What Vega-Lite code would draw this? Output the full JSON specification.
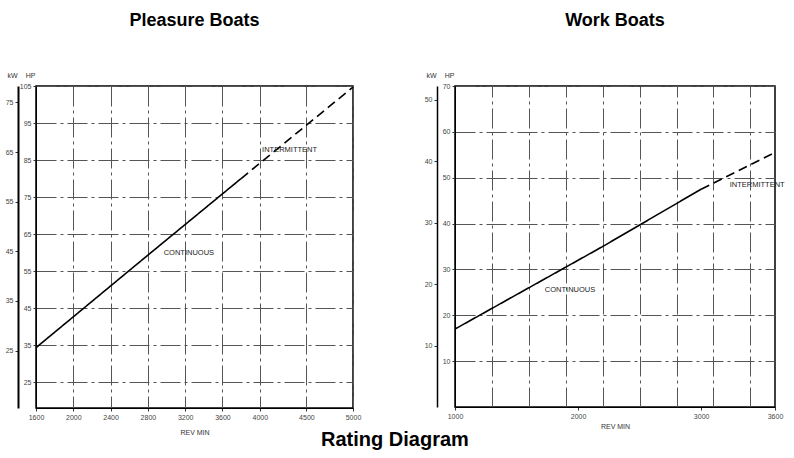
{
  "$schema": "https://vega.github.io/schema/vega-lite/v6.json",
  "background": "white",
  "padding": {"left": 4, "top": 11, "right": 8, "bottom": 4},
  "title": {"text": "Rating Diagram", "orient": "bottom", "anchor": "middle", "fontSize": 20, "font": "Liberation Sans", "fontWeight": "bold", "color": "black", "offset": -6},
  "datasets": {
    "pleasure": [
      {"rpm": 1600, "hp": 34.3, "rating": "CONTINUOUS"},
      {"rpm": 2800, "hp": 59.3, "rating": "CONTINUOUS"},
      {"rpm": 3800, "hp": 80.0, "rating": "CONTINUOUS"},
      {"rpm": 3800, "hp": 80.0, "rating": "INTERMITTENT"},
      {"rpm": 5000, "hp": 104.7, "rating": "INTERMITTENT"}
    ],
    "work": [
      {"rpm": 1000, "hp": 17.0, "rating": "CONTINUOUS"},
      {"rpm": 1600, "hp": 26.0, "rating": "CONTINUOUS"},
      {"rpm": 2200, "hp": 35.0, "rating": "CONTINUOUS"},
      {"rpm": 3000, "hp": 47.5, "rating": "CONTINUOUS"},
      {"rpm": 3000, "hp": 47.5, "rating": "INTERMITTENT"},
      {"rpm": 3600, "hp": 55.5, "rating": "INTERMITTENT"}
    ],
    "pleasureLabels": [
      {"rpm": 3240, "hp": 59.9, "label": "CONTINUOUS"},
      {"rpm": 4320, "hp": 87.7, "label": "INTERMITTENT"}
    ],
    "workLabels": [
      {"rpm": 1935, "hp": 25.5, "label": "CONTINUOUS"},
      {"rpm": 3455, "hp": 48.4, "label": "INTERMITTENT"}
    ],
    "pleasureKw": [{"kw": 13.42}, {"kw": 78.3}],
    "workKw": [{"kw": 0}, {"kw": 52.2}]
  },
  "config": {
    "view": {"stroke": "black", "strokeWidth": 1.5},
    "axis": {
      "labelFont": "Liberation Sans", "labelFontSize": 7, "labelColor": "#444",
      "titleFont": "Liberation Sans", "titleFontSize": 7, "titleFontWeight": "normal", "titleColor": "#333",
      "domainColor": "black", "tickColor": "#333", "tickSize": 3, "labelPadding": 2,
      "labelOverlap": false, "labelFlush": false,
      "gridColor": "#555", "gridDash": [20, 4, 3, 4], "gridWidth": 1
    }
  },
  "spacing": 61,
  "hconcat": [
    {
      "width": 317, "height": 322,
      "title": {"text": "Pleasure Boats", "fontSize": 18, "font": "Liberation Sans", "fontWeight": "bold", "color": "black", "offset": 41},
      "layer": [
        {
          "layer": [
            {
              "data": {"name": "pleasure"},
              "mark": {"type": "line", "color": "black", "strokeWidth": 1.6},
              "encoding": {
                "x": {"field": "rpm", "type": "quantitative", "scale": {"domain": [1600, 5000], "nice": false, "zero": false},
                  "axis": {"values": [1600, 2000, 2400, 2800, 3200, 3600, 4000, 4500, 5000], "labelOverlap": false, "labelFlush": false, "format": "d", "title": "REV   MIN", "titlePadding": 8, "grid": true}},
                "y": {"field": "hp", "type": "quantitative", "scale": {"domain": [18, 105], "nice": false, "zero": false},
                  "axis": {"orient": "left", "values": [25, 35, 45, 55, 65, 75, 85, 95, 105], "labelOverlap": false, "title": "HP", "titleAngle": 0, "titleX": -6, "titleY": -8, "titleAlign": "center", "titleBaseline": "bottom", "grid": true}},
                "strokeDash": {"field": "rating", "type": "nominal", "scale": {"domain": ["CONTINUOUS", "INTERMITTENT"], "range": [[1, 0], [9, 5]]}, "legend": null}
              }
            },
            {
              "data": {"name": "pleasureLabels"},
              "mark": {"type": "text", "font": "Liberation Sans", "fontSize": 7.5, "color": "#222", "align": "center", "baseline": "middle"},
              "encoding": {
                "x": {"field": "rpm", "type": "quantitative", "axis": null},
                "y": {"field": "hp", "type": "quantitative", "axis": null},
                "text": {"field": "label"}
              }
            }
          ],
          "resolve": {"axis": {"x": "independent", "y": "independent"}}
        },
        {
          "data": {"name": "pleasureKw"},
          "mark": {"type": "point", "opacity": 0},
          "encoding": {
            "y": {"field": "kw", "type": "quantitative", "scale": {"domain": [13.42, 78.3], "nice": false, "zero": false},
              "axis": {"orient": "left", "values": [25, 35, 45, 55, 65, 75], "labelOverlap": false, "offset": 18, "grid": false, "title": "kW", "titleAngle": 0, "titleX": -6, "titleY": -8, "titleAlign": "center", "titleBaseline": "bottom", "domainWidth": 2}}
          }
        }
      ],
      "resolve": {"scale": {"y": "independent"}, "axis": {"y": "independent"}}
    },
    {
      "width": 320, "height": 321,
      "title": {"text": "Work Boats", "fontSize": 18, "font": "Liberation Sans", "fontWeight": "bold", "color": "black", "offset": 41},
      "layer": [
        {
          "layer": [
            {
              "data": {"name": "work"},
              "mark": {"type": "line", "color": "black", "strokeWidth": 1.6},
              "encoding": {
                "x": {"field": "rpm", "type": "quantitative", "scale": {"domain": [1000, 3600], "nice": false, "zero": false},
                  "axis": {"values": [1000, 2000, 3000, 3600], "labelOverlap": false, "labelFlush": false, "format": "d", "title": "REV   MIN", "titlePadding": 3, "grid": false}},
                "y": {"field": "hp", "type": "quantitative", "scale": {"domain": [0, 70], "nice": false},
                  "axis": {"orient": "left", "values": [10, 20, 30, 40, 50, 60, 70], "labelOverlap": false, "title": "HP", "titleAngle": 0, "titleX": -6, "titleY": -8, "titleAlign": "center", "titleBaseline": "bottom", "grid": true}},
                "strokeDash": {"field": "rating", "type": "nominal", "scale": {"domain": ["CONTINUOUS", "INTERMITTENT"], "range": [[1, 0], [9, 5]]}, "legend": null}
              }
            },
            {
              "data": {"name": "workLabels"},
              "mark": {"type": "text", "font": "Liberation Sans", "fontSize": 7.5, "color": "#222", "align": "center", "baseline": "middle"},
              "encoding": {
                "x": {"field": "rpm", "type": "quantitative",
                  "axis": {"values": [1300, 1600, 1900, 2200, 2500, 2800, 3100, 3400], "labels": false, "ticks": false, "domain": false, "title": null, "grid": true}},
                "y": {"field": "hp", "type": "quantitative", "axis": null},
                "text": {"field": "label"}
              }
            }
          ],
          "resolve": {"axis": {"x": "independent", "y": "independent"}}
        },
        {
          "data": {"name": "workKw"},
          "mark": {"type": "point", "opacity": 0},
          "encoding": {
            "y": {"field": "kw", "type": "quantitative", "scale": {"domain": [0, 52.2], "nice": false},
              "axis": {"orient": "left", "values": [10, 20, 30, 40, 50], "labelOverlap": false, "offset": 18, "grid": false, "title": "kW", "titleAngle": 0, "titleX": -6, "titleY": -8, "titleAlign": "center", "titleBaseline": "bottom", "domainWidth": 1.5}}
          }
        }
      ],
      "resolve": {"scale": {"y": "independent"}, "axis": {"y": "independent"}}
    }
  ]
}
